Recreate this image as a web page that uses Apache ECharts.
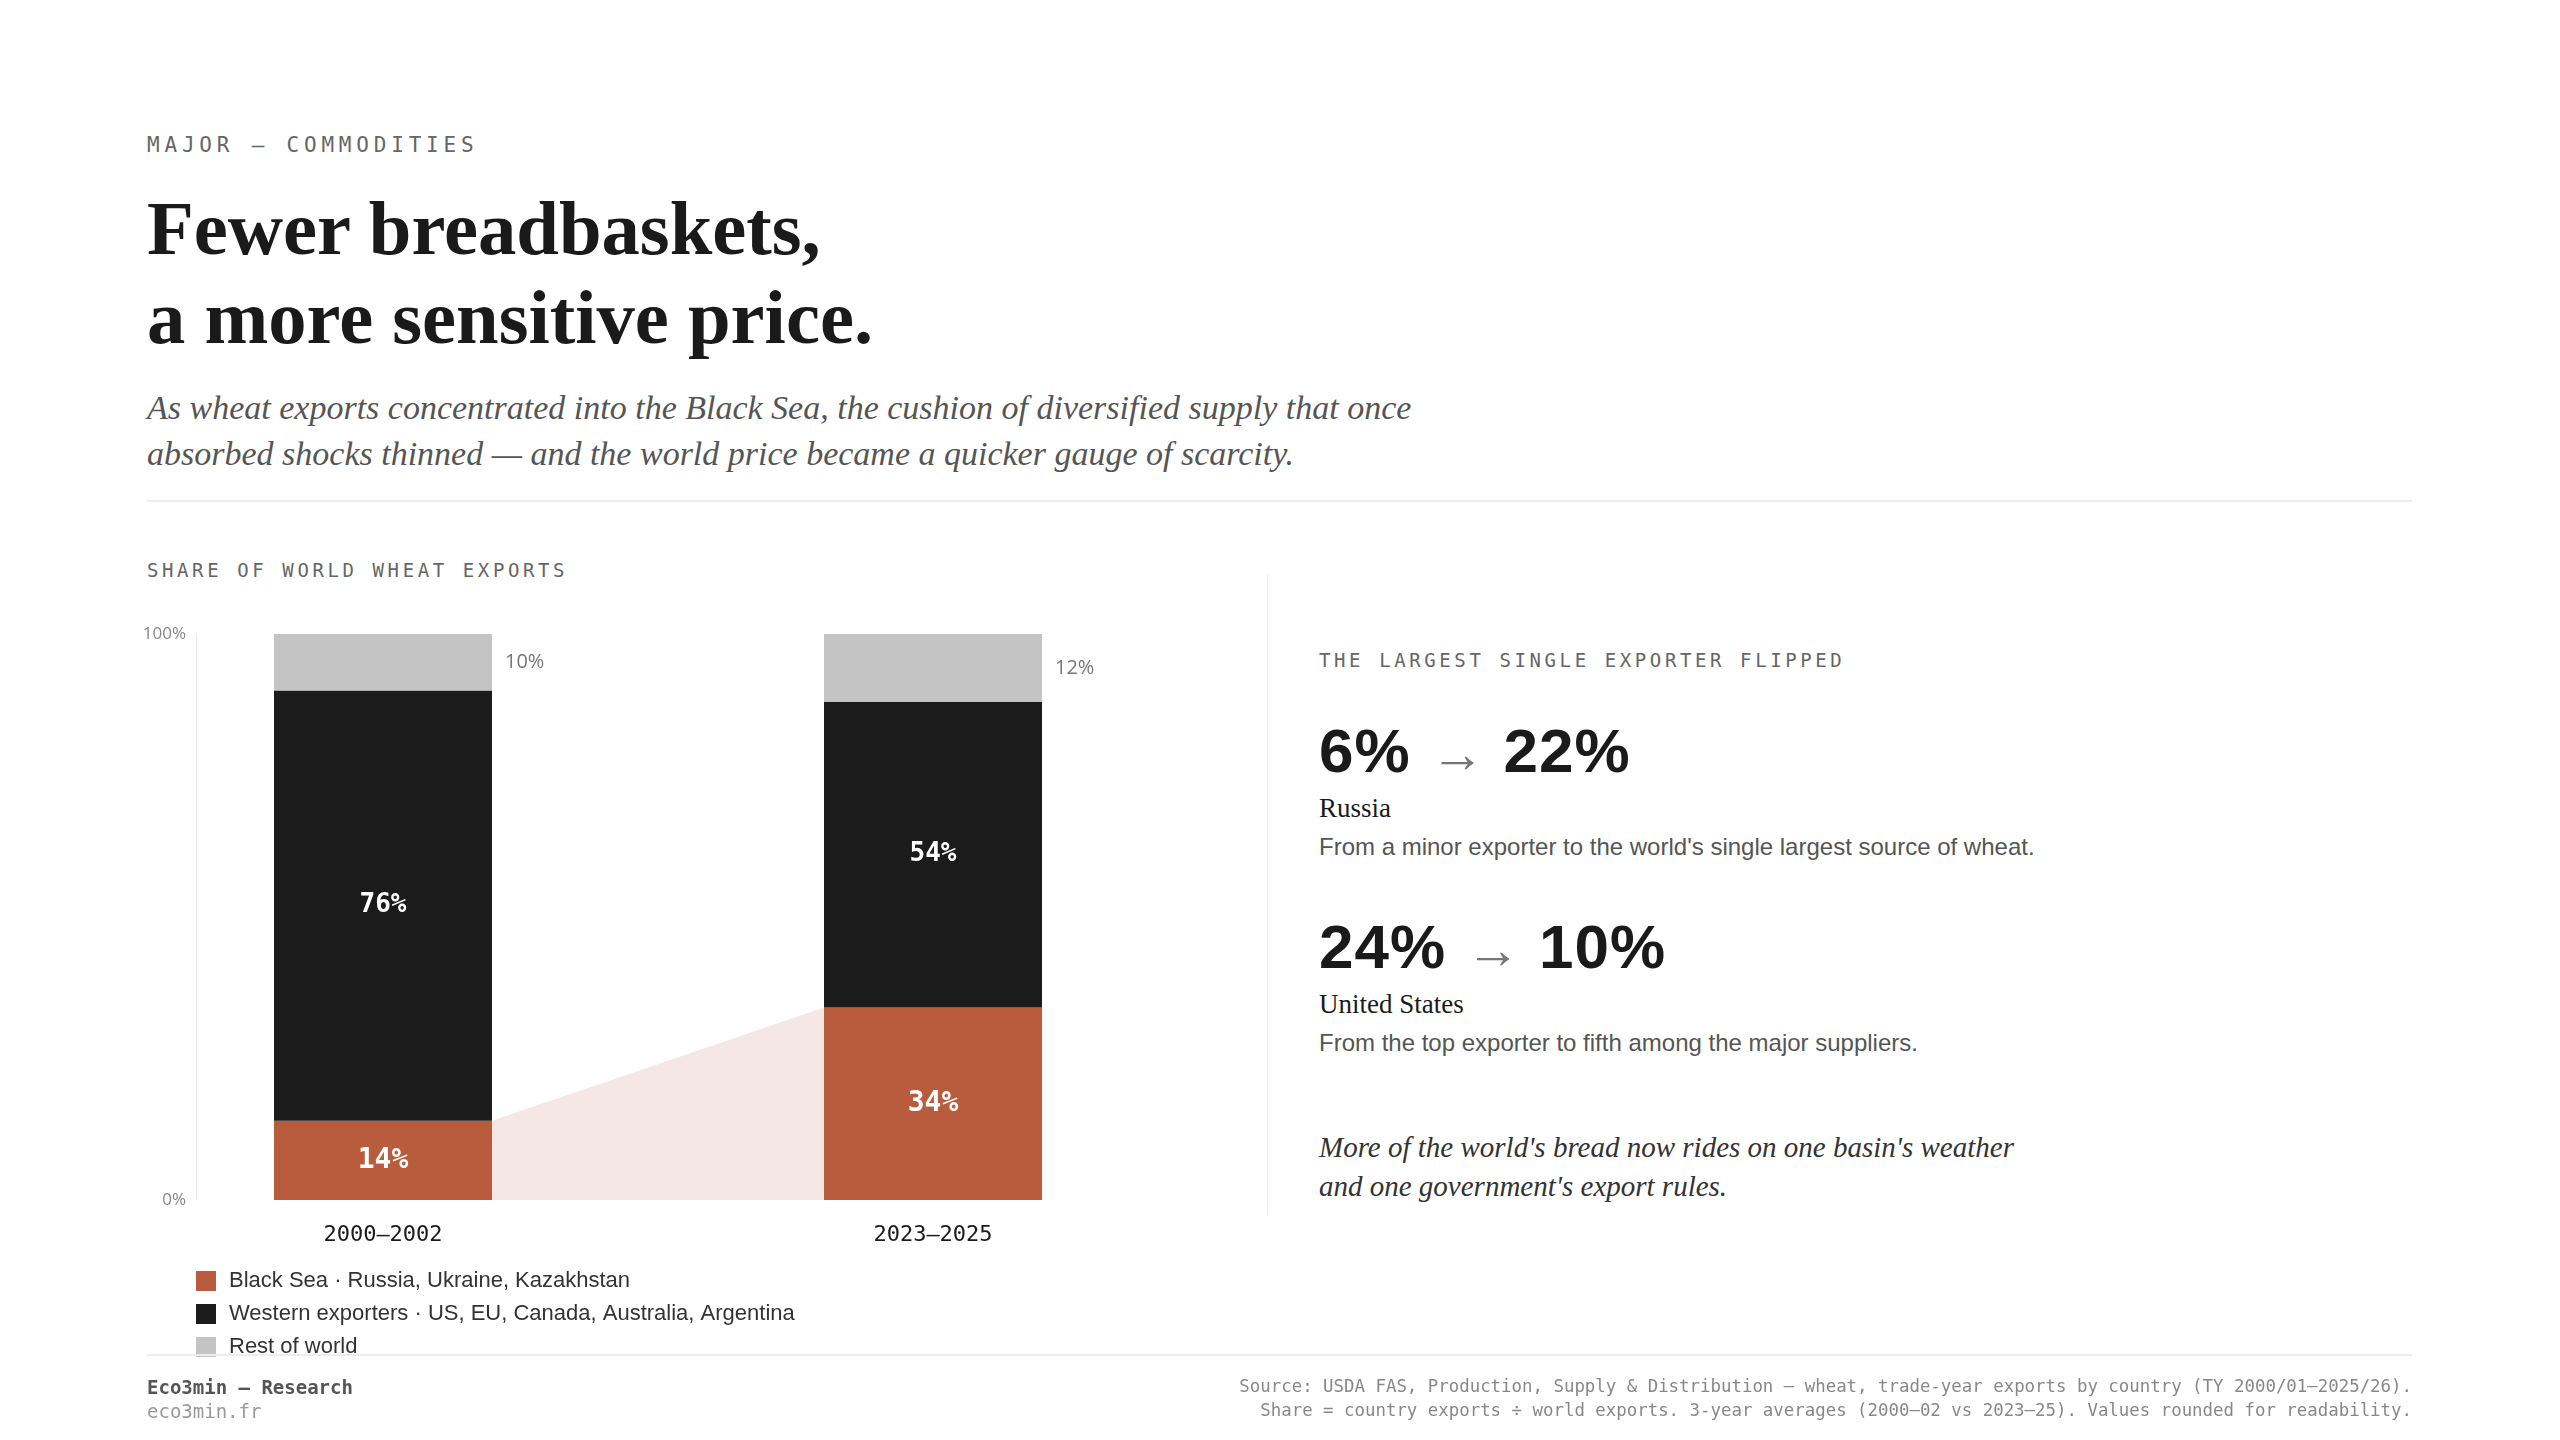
<!DOCTYPE html>
<html>
<head>
<meta charset="utf-8">
<title>Fewer breadbaskets, a more sensitive price.</title>
<script src="https://cdn.jsdelivr.net/npm/echarts@6/dist/echarts.min.js"></script>
<style>
  html, body { margin: 0; padding: 0; background: #fff; }
  body { width: 2560px; height: 1440px; position: relative; overflow: hidden; color: #1a1a1a; }
  .abs { position: absolute; white-space: nowrap; z-index: 2; }
  .mono { font-family: "DejaVu Sans Mono", monospace; }
  .serif { font-family: "Liberation Serif", "Times New Roman", serif; }
  .sans { font-family: "Liberation Sans", Arial, sans-serif; }
  .kicker { left: 147px; top: 132px; font-size: 21px; line-height: 26px; letter-spacing: 4.8px; color: #666; }
  .title { left: 147px; top: 184px; font-size: 76.6px; line-height: 89px; font-weight: 700; color: #1a1a1a; }
  .dek { left: 147px; top: 385px; font-size: 34px; line-height: 46px; font-style: italic; color: #555; }
  .rule { position: absolute; left: 147px; width: 2265px; height: 2px; background: #ededed; z-index: 2; }
  .label { font-size: 19px; line-height: 24px; letter-spacing: 3.6px; color: #666; }
  .vdiv { position: absolute; left: 1267px; top: 575px; width: 1px; height: 640px; background: #ececec; }
  .big { left: 1319px; font-family: "Liberation Sans", Arial, sans-serif; font-size: 62px; line-height: 70px; font-weight: 700; letter-spacing: 1px; color: #1a1a1a; }
  .big .arr { font-family: "Liberation Serif", serif; font-size: 54px; color: #777; margin: 0 19px 0 20px; font-weight: 400; letter-spacing: 0; }
  .who { left: 1319px; font-size: 27px; line-height: 32px; color: #1a1a1a; }
  .desc { left: 1319px; font-size: 24px; line-height: 30px; color: #555; }
  .quote { left: 1319px; top: 1128px; font-size: 29px; line-height: 39px; font-style: italic; color: #333; }
  .foot { font-size: 19px; line-height: 24px; }
  .src { right: 148px; top: 1374px; font-size: 17.4px; line-height: 24px; color: #888; text-align: right; }
  #chart { position: absolute; left: 0; top: 600px; width: 1267px; height: 840px; z-index: 1; }
</style>
</head>
<body>
  <div class="abs mono kicker">MAJOR — COMMODITIES</div>
  <div class="abs serif title">Fewer breadbaskets,<br>a more sensitive price.</div>
  <div class="abs serif dek">As wheat exports concentrated into the Black Sea, the cushion of diversified supply that once<br>absorbed shocks thinned — and the world price became a quicker gauge of scarcity.</div>
  <div class="rule" style="top:500px"></div>

  <div class="abs mono label" style="left:147px; top:558px">SHARE OF WORLD WHEAT EXPORTS</div>
  <div id="chart"></div>
  <div class="vdiv"></div>

  <div class="abs mono label" style="left:1319px; top:648px">THE LARGEST SINGLE EXPORTER FLIPPED</div>
  <div class="abs big" style="top:716px">6%<span class="arr">→</span>22%</div>
  <div class="abs serif who" style="top:792px">Russia</div>
  <div class="abs sans desc" style="top:832px">From a minor exporter to the world's single largest source of wheat.</div>
  <div class="abs big" style="top:912px">24%<span class="arr">→</span>10%</div>
  <div class="abs serif who" style="top:988px">United States</div>
  <div class="abs sans desc" style="top:1028px">From the top exporter to fifth among the major suppliers.</div>
  <div class="abs serif quote">More of the world's bread now rides on one basin's weather<br>and one government's export rules.</div>

  <div class="rule" style="top:1354px"></div>
  <div class="abs mono foot" style="left:147px; top:1375px; font-weight:700; color:#555">Eco3min — Research</div>
  <div class="abs mono foot" style="left:147px; top:1399px; color:#999">eco3min.fr</div>
  <div class="abs mono src">Source: USDA FAS, Production, Supply &amp; Distribution — wheat, trade-year exports by country (TY 2000/01–2025/26).<br>Share = country exports ÷ world exports. 3-year averages (2000–02 vs 2023–25). Values rounded for readability.</div>

<script>
// share of world wheat exports, %, 3-year averages
const periods = ['2000–2002', '2023–2025'];
const blackSea = [14, 34];
const western = [76, 54];
const restOfWorld = [10, 12];
const seriesNames = [
  'Black Sea · Russia, Ukraine, Kazakhstan',
  'Western exporters · US, EU, Canada, Australia, Argentina',
  'Rest of world'
];
const yTicks = [0, 100];

const BAR_W = 218;
const MONO = '"DejaVu Sans Mono", monospace';
const chart = echarts.init(document.getElementById('chart'));

const pct = function (p) { return p.value + '%'; };

chart.setOption({
  animation: false,
  textStyle: { fontFamily: '"Open Sans", sans-serif' },
  grid: { left: 108, top: 34, width: 1100, height: 566 },
  legend: {
    data: seriesNames,
    orient: 'vertical',
    left: 196,
    top: 670,
    padding: 0,
    itemWidth: 20,
    itemHeight: 20,
    itemGap: 11,
    icon: 'rect',
    selectedMode: false,
    textStyle: { fontFamily: '"Liberation Sans", Arial, sans-serif', fontSize: 22, color: '#333', padding: [0, 0, 0, 8] }
  },
  xAxis: {
    type: 'category',
    data: periods,
    axisLine: { show: false },
    axisTick: { show: false },
    axisLabel: { margin: 24, fontFamily: MONO, fontSize: 22, color: '#1a1a1a' }
  },
  yAxis: {
    type: 'value',
    min: yTicks[0],
    max: yTicks[1],
    interval: yTicks[1] - yTicks[0],
    offset: -88,
    axisLine: { show: true, lineStyle: { color: '#e8e8e8', width: 1 } },
    axisTick: { show: false },
    splitLine: { show: false },
    axisLabel: { formatter: '{value}%', fontSize: 17, color: '#888', margin: 10 }
  },
  series: [
    {
      // light band joining the Black Sea segments
      type: 'custom',
      silent: true,
      z: 1,
      data: [[0, blackSea[0]]],
      renderItem: function (params, api) {
        const a = api.coord([0, blackSea[0]]);
        const b = api.coord([1, blackSea[1]]);
        const a0 = api.coord([0, 0]);
        const b0 = api.coord([1, 0]);
        const hw = BAR_W / 2;
        return {
          type: 'polygon',
          shape: { points: [[a[0] + hw, a[1]], [b[0] - hw, b[1]], [b[0] - hw, b0[1]], [a[0] + hw, a0[1]]] },
          style: { fill: '#f5e7e3' }
        };
      }
    },
    {
      name: seriesNames[0],
      type: 'bar',
      stack: 'share',
      barWidth: BAR_W,
      z: 3,
      data: blackSea,
      itemStyle: { color: '#b95b3d' },
      label: { show: true, position: 'inside', formatter: pct, color: '#fff', fontFamily: MONO, fontSize: 28, fontWeight: 'bold' }
    },
    {
      name: seriesNames[1],
      type: 'bar',
      stack: 'share',
      barWidth: BAR_W,
      z: 3,
      data: western,
      itemStyle: { color: '#1b1b1b' },
      label: { show: true, position: 'inside', formatter: pct, color: '#fff', fontFamily: MONO, fontSize: 26, fontWeight: 'bold' }
    },
    {
      name: seriesNames[2],
      type: 'bar',
      stack: 'share',
      barWidth: BAR_W,
      z: 3,
      data: restOfWorld,
      itemStyle: { color: '#c4c4c4' },
      label: { show: true, position: 'right', distance: 13, formatter: pct, color: '#777', fontSize: 20 }
    }
  ]
});
</script>
</body>
</html>
